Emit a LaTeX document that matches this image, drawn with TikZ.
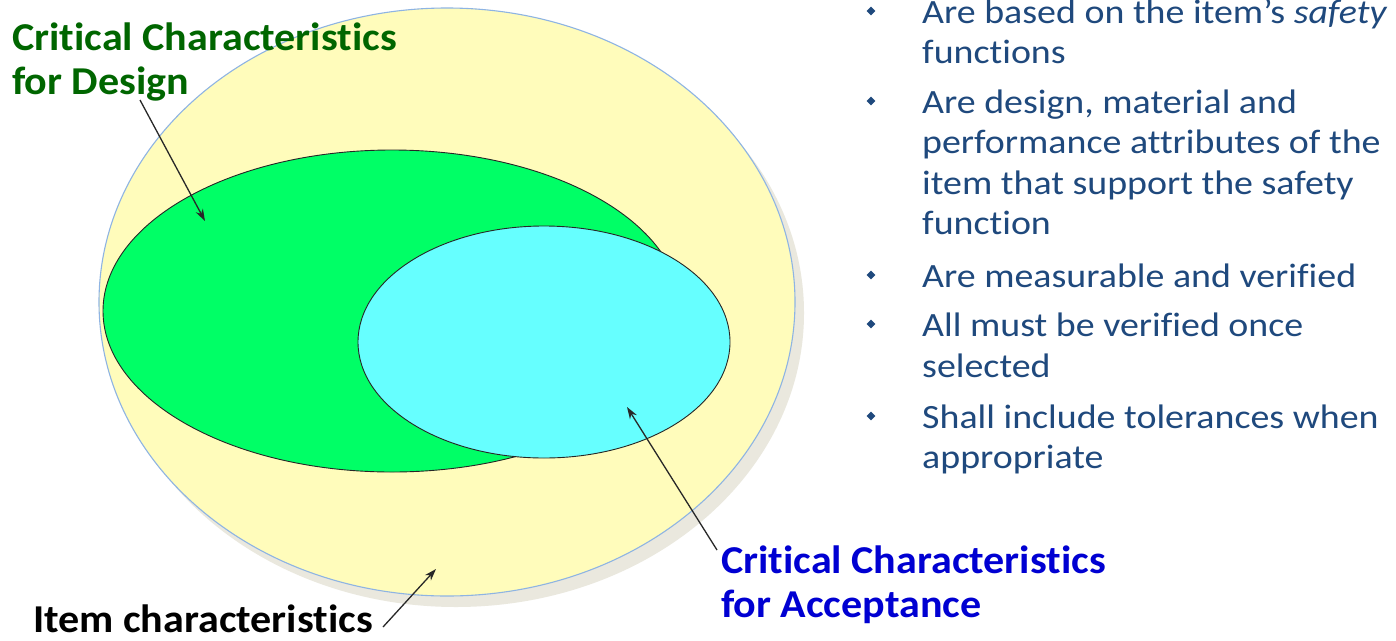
\documentclass[tikz,border=0pt]{standalone}
\usepackage{fontspec}
\setmainfont[Ligatures={NoCommon}]{Carlito}
\newfontfamily\bulfont[FakeStretch=1.115,Ligatures={NoCommon}]{Carlito}
\newfontfamily\labfont[FakeStretch=1.065,Ligatures={NoCommon}]{Carlito}
\usetikzlibrary{arrows.meta,shapes.geometric}
\definecolor{yel}{RGB}{255,252,187}
\definecolor{bigline}{RGB}{142,180,227}
\definecolor{shadowc}{RGB}{234,232,222}
\definecolor{grn}{RGB}{0,255,102}
\definecolor{cyn}{RGB}{102,255,255}
\definecolor{bultext}{RGB}{31,73,125}
\definecolor{labgreen}{RGB}{0,102,0}
\definecolor{labblue}{RGB}{0,0,210}
\definecolor{arrowc}{RGB}{40,40,40}
\begin{document}
\begin{tikzpicture}[x=1pt,y=-1pt,
  bul/.style={anchor=base west, inner sep=0pt, text=bultext,
    font=\bulfont\fontsize{34}{40}\selectfont},
  dot/.style={diamond, fill=bultext, inner sep=0pt, minimum size=9pt},
  lab/.style={anchor=base west, inner sep=0pt,
    font=\labfont\bfseries\fontsize{39.5}{44}\selectfont},
  oval/.style={ellipse, inner sep=0pt},
  pointer/.style={draw=arrowc, line width=1.3pt,
    -{Stealth[length=12pt,width=8pt]}}]
\useasboundingbox[fill=white] (0,0) rectangle (1396,640);

% ellipses
\node[oval, fill=shadowc, minimum width=696pt, minimum height=588pt] (shadow) at (456,313) {};
\node[oval, fill=yel, draw=bigline, line width=1.1pt, minimum width=696pt, minimum height=588pt] (item) at (447,302) {};
\node[oval, fill=grn, draw=black!85, line width=0.9pt, minimum width=578pt, minimum height=322pt] (design) at (392,311) {};
\node[oval, fill=cyn, draw=black!85, line width=0.9pt, minimum width=372pt, minimum height=232pt] (accept) at (544,342) {};

% labels
\node[lab, text=labgreen] (d1) at (12,50) {Critical Characteristics};
\node[lab, text=labgreen] (d2) at (12,94) {for Design};
\node[lab, text=labblue] (a1) at (721,573) {Critical Characteristics};
\node[lab, text=labblue] (a2) at (721,617) {for Acceptance};
\node[lab, text=black] (i1) at (33,632) {Item characteristics};

% pointers
\coordinate (dtail) at (140,100);
\coordinate (dtip) at (205,221);
\coordinate (atail) at (717,550);
\coordinate (atip) at (627,407);
\coordinate (itail) at (383,627);
\coordinate (itip) at (436,569);
\draw[pointer] (dtail) -- (dtip);
\draw[pointer] (atail) -- (atip);
\draw[pointer] (itail) -- (itip);

% bullets
\foreach \y/\n in {11/b1,101/b2,275/b3,324/b4,416/b5}
  \node[dot] (\n) at (871,\y) {};
\node[bul] (t1a) at (922,23) {Are based on the item’s \textit{safety}};
\node[bul] (t1b) at (922,63) {functions};
\node[bul] (t2a) at (922,113) {Are design, material and};
\node[bul] (t2b) at (922,153) {performance attributes of the};
\node[bul] (t2c) at (922,194) {item that support the safety};
\node[bul] (t2d) at (922,234) {function};
\node[bul] (t3a) at (922,287) {Are measurable and verified};
\node[bul] (t4a) at (922,336) {All must be verified once};
\node[bul] (t4b) at (922,377) {selected};
\node[bul] (t5a) at (922,428) {Shall include tolerances when};
\node[bul] (t5b) at (922,468) {appropriate};
\end{tikzpicture}
\end{document}
